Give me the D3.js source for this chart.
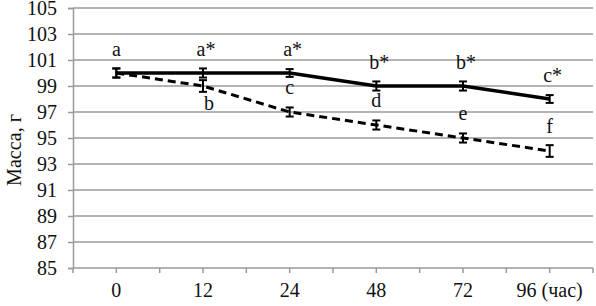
<!DOCTYPE html>
<html>
<head>
<meta charset="utf-8">
<script src="https://cdn.jsdelivr.net/npm/d3@7"></script>
</head>
<body style="margin:0">
<svg id="chart" width="596" height="306" font-family="Liberation Serif"></svg>
<script>
// data
const categories = ["0", "12", "24", "48", "72", "96 (час)"];
const yTicks = [85, 87, 89, 91, 93, 95, 97, 99, 101, 103, 105];
const solidValues = [100, 100, 100, 99, 99, 98];
const solidErr = [0.35, 0.35, 0.3, 0.35, 0.35, 0.3];
const solidLabels = ["a", "a*", "a*", "b*", "b*", "c*"];
const dashedValues = [100, 99, 97, 96, 95, 94];
const dashedErr = [0.35, 0.45, 0.35, 0.35, 0.35, 0.45];
const dashedLabels = ["", "b", "c", "d", "e", "f"];

const margin = { left: 73, right: 3, top: 8, bottom: 38 };
const width = 596, height = 306;
const FONT = "Liberation Serif";
const FS = 20;

const svg = d3.select("#chart");

// helper so every text gets the serif face
const serif = (sel) => sel
  .style("font-family", FONT)
  .attr("font-family", FONT)
  .attr("font-size", FS)
  .attr("fill", "#111");

const x = d3.scaleBand()
  .domain(categories)
  .range([margin.left, width - margin.right]);

const y = d3.scaleLinear()
  .domain([85, 105])
  .range([height - margin.bottom, margin.top]);

const cx = (i) => x(categories[i]) + x.bandwidth() / 2;

// gridlines
svg.append("g")
  .selectAll("line")
  .data(yTicks.slice(1))
  .join("line")
  .attr("x1", margin.left)
  .attr("x2", width - margin.right)
  .attr("y1", (d) => y(d))
  .attr("y2", (d) => y(d))
  .attr("stroke", "#9a9a9a")
  .attr("stroke-width", 1.5);

// y axis
const yAxis = d3.axisLeft(y).tickValues(yTicks).tickSize(5).tickPadding(11);
svg.append("g")
  .attr("transform", `translate(${margin.left},0)`)
  .call(yAxis)
  .call((g) => {
    g.attr("font-family", FONT).attr("font-size", FS);
    g.select(".domain").attr("stroke", "#9a9a9a").attr("stroke-width", 1.5);
    g.selectAll(".tick line").attr("stroke", "#9a9a9a").attr("stroke-width", 1.5);
    g.selectAll(".tick text").call(serif);
  });

// x axis line + ticks at half-category steps
const xBase = y(85);
svg.append("line")
  .attr("x1", margin.left)
  .attr("x2", width - margin.right)
  .attr("y1", xBase)
  .attr("y2", xBase)
  .attr("stroke", "#9a9a9a")
  .attr("stroke-width", 1.5);

const tickXs = [];
categories.forEach((c, i) => {
  tickXs.push(x(c));
  tickXs.push(cx(i));
});
tickXs.push(width - margin.right);
svg.append("g")
  .selectAll("line")
  .data(tickXs)
  .join("line")
  .attr("x1", (d) => d)
  .attr("x2", (d) => d)
  .attr("y1", xBase)
  .attr("y2", xBase + 5)
  .attr("stroke", "#9a9a9a")
  .attr("stroke-width", 1.5);

svg.append("g")
  .selectAll("text")
  .data(categories)
  .join("text")
  .attr("x", (d, i) => cx(i))
  .attr("y", xBase + 29)
  .attr("text-anchor", "middle")
  .call(serif)
  .text((d) => d);

// y axis title
svg.append("text")
  .attr("transform", `translate(21,${(margin.top + xBase) / 2 + 12}) rotate(-90)`)
  .attr("text-anchor", "middle")
  .call(serif)
  .text("Масса, г");

// lines
const line = d3.line().x((d, i) => cx(i)).y((d) => y(d));

svg.append("path")
  .datum(dashedValues)
  .attr("fill", "none")
  .attr("stroke", "#000")
  .attr("stroke-width", 3)
  .attr("stroke-dasharray", "8,5")
  .attr("d", line);

svg.append("path")
  .datum(solidValues)
  .attr("fill", "none")
  .attr("stroke", "#000")
  .attr("stroke-width", 3.5)
  .attr("d", line);

// error bars
function errorBars(values, errs) {
  const g = svg.append("g").attr("stroke", "#000").attr("stroke-width", 2);
  values.forEach((v, i) => {
    const px = cx(i);
    const y1 = y(v + errs[i]);
    const y2 = y(v - errs[i]);
    g.append("line").attr("x1", px).attr("x2", px).attr("y1", y1).attr("y2", y2);
    g.append("line").attr("x1", px - 4).attr("x2", px + 4).attr("y1", y1).attr("y2", y1);
    g.append("line").attr("x1", px - 4).attr("x2", px + 4).attr("y1", y2).attr("y2", y2);
  });
}
errorBars(dashedValues, dashedErr);
errorBars(solidValues, solidErr);

// letter labels
svg.append("g")
  .selectAll("text")
  .data(solidLabels)
  .join("text")
  .attr("x", (d, i) => cx(i) + (d.length > 1 ? 3 : 0))
  .attr("y", (d, i) => y(solidValues[i]) - 17)
  .attr("text-anchor", "middle")
  .call(serif)
  .text((d) => d);

svg.append("g")
  .selectAll("text")
  .data(dashedLabels)
  .join("text")
  .attr("x", (d, i) => cx(i) + (i === 1 ? 6 : 0))
  .attr("y", (d, i) => (i === 1 ? y(dashedValues[i]) + 24 : y(dashedValues[i]) - 18))
  .attr("text-anchor", "middle")
  .call(serif)
  .text((d) => d);
</script>
</body>
</html>
